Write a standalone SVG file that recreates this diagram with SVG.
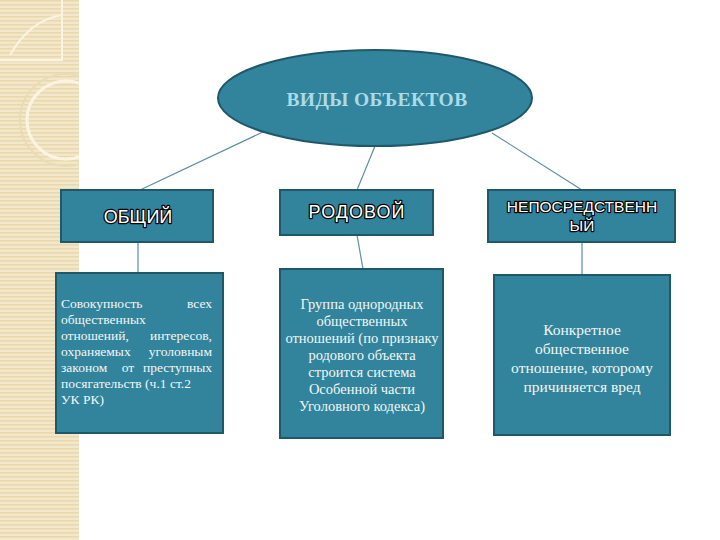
<svg xmlns="http://www.w3.org/2000/svg" width="720" height="540" viewBox="0 0 720 540">
<style>
.box{fill:#31849b;stroke:#1f5868;stroke-width:2}
.ln{stroke:#5b8fa3;stroke-width:1.2;fill:none}
.lbl{font-family:"Liberation Sans",Arial,sans-serif;font-size:17px;fill:#ffffff;stroke:#000000;stroke-width:2.4;paint-order:stroke;stroke-linejoin:round;text-anchor:middle}
.big{font-size:18px}
.sm{font-size:15.5px}
.txt{font-family:"Liberation Serif","Times New Roman",serif;font-size:13.5px;fill:#f2f6f7}
.t2{font-size:14.5px}
.t3{font-size:15.5px}
.c{text-anchor:middle}
.e{text-anchor:end}
</style>
<defs>
<pattern id="stripes" width="4" height="4" patternUnits="userSpaceOnUse">
<rect width="4" height="4" fill="#f3e7c9"/>
<rect width="4" height="1.5" fill="#e9d8ad"/>
</pattern>
<clipPath id="strip"><rect x="0" y="0" width="79" height="540"/></clipPath>
</defs>
<rect width="720" height="540" fill="#ffffff"/>
<g id="side" clip-path="url(#strip)">
<rect x="0" y="0" width="79" height="540" fill="url(#stripes)"/>
<path d="M0,60 H62 V0" fill="none" stroke="#fbf4e2" stroke-width="2"/>
<path d="M10,55 Q30,20 62,15" fill="none" stroke="#fbf4e2" stroke-width="2"/>
<circle cx="66" cy="120" r="46" fill="none" stroke="#e8dcb8" stroke-width="2"/>
<circle cx="66" cy="120" r="39" fill="none" stroke="#fbf4e2" stroke-width="3"/>
</g>
<g id="connectors">
<line class="ln" x1="265" y1="131" x2="140" y2="190"/>
<line class="ln" x1="375" y1="146" x2="357" y2="190"/>
<line class="ln" x1="492" y1="133" x2="582" y2="190"/>
<line class="ln" x1="138" y1="242" x2="138" y2="273"/>
<line class="ln" x1="357" y1="235" x2="363" y2="269"/>
<line class="ln" x1="582" y1="242" x2="582" y2="275"/>
</g>
<g id="root">
<ellipse cx="375" cy="98" rx="157" ry="48" fill="#31849b" stroke="#1f5868" stroke-width="2"/>
<text x="377" y="106" font-family="'Liberation Serif','Times New Roman',serif" font-size="19.5" font-weight="bold" letter-spacing="0.4" fill="#a9dbe8" text-anchor="middle">ВИДЫ ОБЪЕКТОВ</text>
</g>
<g id="general">
<rect class="box" x="61" y="190" width="152" height="52"/>
<text class="lbl big" x="138" y="223">ОБЩИЙ</text>
</g>
<g id="generic">
<rect class="box" x="280" y="190" width="153" height="45"/>
<text class="lbl big" x="357" y="218" letter-spacing="1">РОДОВОЙ</text>
</g>
<g id="direct">
<rect class="box" x="488" y="190" width="187" height="52"/>
<text class="lbl sm" x="582" y="212">НЕПОСРЕДСТВЕНН</text>
<text class="lbl sm" x="582" y="231">ЫЙ</text>
</g>
<g id="general-desc">
<rect class="box" x="56" y="273" width="167" height="160"/>
<text class="txt" x="61" y="308">Совокупность</text><text class="txt e" x="212" y="308">всех</text>
<text class="txt" x="61" y="324">общественных</text>
<text class="txt" x="61" y="340">отношений,</text><text class="txt e" x="212" y="340">интересов,</text>
<text class="txt" x="61" y="356">охраняемых</text><text class="txt e" x="212" y="356">уголовным</text>
<text class="txt" x="61" y="372">законом</text><text class="txt c" x="128" y="372">от</text><text class="txt e" x="212" y="372">преступных</text>
<text class="txt" x="61" y="388">посягательств (ч.1 ст.2</text>
<text class="txt" x="61" y="404">УК РК)</text>
</g>
<g id="generic-desc">
<rect class="box" x="280" y="269" width="163" height="169"/>
<text class="txt t2 c" x="362" y="309">Группа однородных</text>
<text class="txt t2 c" x="362" y="326">общественных</text>
<text class="txt t2 c" x="362" y="343">отношений (по признаку</text>
<text class="txt t2 c" x="362" y="360">родового объекта</text>
<text class="txt t2 c" x="362" y="377">строится система</text>
<text class="txt t2 c" x="362" y="394">Особенной части</text>
<text class="txt t2 c" x="362" y="411">Уголовного кодекса)</text>
</g>
<g id="direct-desc">
<rect class="box" x="494" y="275" width="176" height="160"/>
<text class="txt t3 c" x="582" y="335">Конкретное</text>
<text class="txt t3 c" x="582" y="354">общественное</text>
<text class="txt t3 c" x="582" y="373">отношение, которому</text>
<text class="txt t3 c" x="582" y="392">причиняется вред</text>
</g>
</svg>
